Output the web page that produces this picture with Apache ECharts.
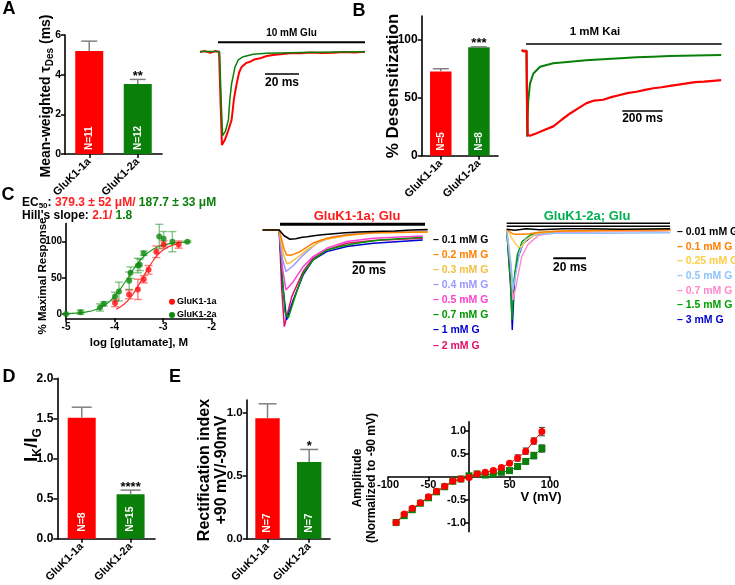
<!DOCTYPE html>
<html><head><meta charset="utf-8">
<script src="https://cdn.jsdelivr.net/npm/echarts@6/dist/echarts.min.js"></script>
<style>html,body{margin:0;padding:0;background:#fff}#c{width:735px;height:585px}</style>
</head><body><div id="c"></div>
<script>
const FONT = '"Liberation Sans", Arial, sans-serif';
const RED = '#ff0000', GREEN = '#0a800a', GREY = '#808080';

// ---------- DATA ----------
const groups = ['GluK1-1a', 'GluK1-2a'];
// Panel A bars
const tauDes = [5.19, 3.53];
const tauDesErr = [0.50, 0.23];
const tauN = ['N=11', 'N=12'];
const tauStars = ['', '**'];
// Panel B bars
const desens = [72.4, 93.1];
const desensErr = [2.3, 0.4];
const desensN = ['N=5', 'N=8'];
const desensStars = ['', '***'];
// Panel D bars
const ikig = [1.51, 0.557];
const ikigErr = [0.13, 0.05];
const ikigN = ['N=8', 'N=15'];
const ikigStars = ['', '****'];
// Panel E bars
const rectIdx = [0.955, 0.608];
const rectErr = [0.115, 0.10];
const rectN = ['N=7', 'N=7'];
const rectStars = ['', '*'];

// Panel A trace (time ms, normalized current)
const traceA_red = [[0,0],[3,0.01],[6,-0.01],[9,0.01],[11.2,0],[12.2,-0.6],[12.9,-1.0],[14.5,-0.95],[16.5,-0.85],[18.6,-0.73],[20,-0.5],[21.6,-0.34],[23,-0.22],[24.5,-0.16],[27,-0.12],[29.4,-0.105],[32,-0.08],[35.3,-0.068],[39.2,-0.043],[44,-0.03],[48.8,-0.022],[54,-0.01],[58.8,-0.014],[65,-0.005],[72,-0.012],[78.2,-0.008],[85,0],[91,-0.005],[97,0.003]];
const traceA_green = [[0,0.005],[11.5,0.005],[12.4,-0.5],[13.3,-0.9],[15,-0.85],[16.7,-0.73],[17.6,-0.5],[18.6,-0.34],[20.6,-0.16],[22.5,-0.086],[25.5,-0.05],[31.3,-0.025],[39.2,-0.014],[60,-0.005],[80,0],[97,0.003]];
// Panel B trace
const traceB_green = [[0,0],[24,0],[25.5,-0.5],[27,-1.0],[29,-0.8],[32.8,-0.573],[41.4,-0.38],[57.9,-0.265],[91,-0.186],[156,-0.147],[240,-0.128],[320,-0.112],[404,-0.1],[490,-0.088],[570,-0.077],[650,-0.07],[736,-0.063],[860,-0.056],[990,-0.05]];
const traceB_red = [[0,0.01],[10,-0.01],[24,0],[26,-0.5],[30,-0.98],[41,-0.99],[74,-0.96],[115,-0.92],[157,-0.88],[200,-0.8],[240,-0.73],[280,-0.67],[322,-0.61],[360,-0.58],[404,-0.57],[445,-0.54],[487,-0.515],[530,-0.49],[570,-0.477],[612,-0.455],[653,-0.437],[695,-0.425],[736,-0.41],[778,-0.395],[819,-0.38],[860,-0.365],[905,-0.36],[950,-0.35],[990,-0.343]];

// Panel C dose-response (log M, % max, sem)
const doseRed = [[-3.99,15,5],[-3.70,27,6],[-3.52,34,14],[-3.40,48,5],[-3.30,61,6],[-3.14,86,8],[-2.99,96,5],[-2.68,96,5]];
const doseGreen = [[-5.0,0,0],[-4.70,2.5,3],[-4.30,9,5],[-4.22,14,3],[-3.99,24,6],[-3.91,31,13],[-3.70,46,12],[-3.67,57,8],[-3.52,67,10],[-3.48,68,8],[-3.40,84,3],[-3.08,107,17],[-2.99,104,10],[-2.81,100,14],[-2.50,100,1]];
const fitRed = [[-3.97,6.5],[-3.9,8.9],[-3.8,13.7],[-3.7,20.5],[-3.6,29.5],[-3.5,40.4],[-3.42,50],[-3.3,64.1],[-3.2,74.3],[-3.1,82.4],[-3.0,88.4],[-2.9,92.5],[-2.8,95.2],[-2.68,97.3]];
const fitGreen = [[-5,0.5],[-4.8,1.2],[-4.6,2.6],[-4.4,5.8],[-4.2,12.3],[-4.0,24.4],[-3.8,42.5],[-3.6,62.9],[-3.4,79.5],[-3.2,89.9],[-3.0,95.3],[-2.8,97.9],[-2.5,99.4]];

// Panel C traces GluK1-1a (ms, normalized)
const cLeftLabels = ['0.1 mM G','0.2 mM G','0.3 mM G','0.4 mM G','0.5 mM G','0.7 mM G','1 mM G','2 mM G'];
const cLeftColors = ['#000000','#ff8000','#f0c040','#9999ff','#ff40d0','#009900','#0000cc','#e0106a'];
const cLeftTraces = [
  [[0,0],[10,0],[13,-0.06],[16.5,-0.096],[20,-0.09],[24,-0.075],[27,-0.07],[31,-0.06],[36,-0.05],[43,-0.04],[50,-0.03],[58,-0.02],[67,-0.015],[80,-0.01],[90,0],[100,0.005]],
  [[0,0],[10,0],[13,-0.2],[14.5,-0.26],[17.5,-0.26],[22.6,-0.225],[30.5,-0.135],[38.8,-0.086],[51,-0.052],[67,-0.028],[100,-0.02]],
  [[0,0],[10,0],[12.5,-0.25],[14.7,-0.35],[16.5,-0.34],[20.6,-0.29],[26.7,-0.207],[36.5,-0.103],[50,-0.06],[67,-0.03],[100,-0.02]],
  [[0,0],[10,0],[12,-0.3],[14.1,-0.43],[18.5,-0.37],[24.5,-0.26],[32.6,-0.138],[42.6,-0.069],[55,-0.04],[75,-0.02],[100,-0.01]],
  [[0,0],[10,0],[12,-0.4],[14.1,-0.62],[18.5,-0.535],[24.5,-0.38],[30.5,-0.276],[38.8,-0.19],[51,-0.12],[67,-0.085],[97,-0.062]],
  [[0,0],[10,0],[12,-0.5],[13.5,-0.85],[15.5,-0.91],[19.6,-0.69],[24.5,-0.448],[30.5,-0.31],[38.8,-0.207],[47,-0.172],[57,-0.138],[71,-0.103],[97,-0.075]],
  [[0,0],[10,0],[12,-0.55],[14.5,-0.93],[18.5,-0.724],[24.5,-0.465],[30.5,-0.31],[38.8,-0.224],[51,-0.172],[67,-0.138],[97,-0.103]],
  [[0,0],[10,0],[11.5,-0.6],[13.1,-1.0],[17.6,-0.69],[24.5,-0.43],[30.5,-0.293],[38.8,-0.207],[51,-0.138],[67,-0.11],[97,-0.086]]
];
// Panel C traces GluK1-2a
const cRightLabels = ['0.01 mM G','0.1 mM G','0.25 mM G','0.5 mM G','0.7 mM G','1.5 mM G','3 mM G'];
const cRightColors = ['#000000','#ff7f00','#ffcc44','#8fc3ff','#ff88cc','#00a000','#0000cc'];
const cRightTraces = [
  [[0,0],[5,-0.01],[12,0.005],[20,-0.005],[35,0.005],[50,0.005],[70,0],[100,0.005]],
  [[0,0],[1.2,0],[3,-0.04],[5,-0.05],[10,-0.05],[14,-0.045],[20,-0.03],[30,-0.02],[50,-0.012],[100,-0.005]],
  [[0,0],[1.2,0],[3.5,-0.1],[7.1,-0.18],[9,-0.17],[12.2,-0.107],[18.3,-0.04],[30,-0.02],[60,-0.015],[100,-0.01]],
  [[0,0],[1.2,0],[2.7,-0.35],[3.9,-0.6],[5.5,-0.45],[8,-0.22],[11.5,-0.1],[18,-0.05],[30,-0.04],[60,-0.04],[100,-0.035]],
  [[0,0],[1.2,0],[2.7,-0.4],[3.9,-0.7],[6.1,-0.53],[9.2,-0.27],[13,-0.15],[19.6,-0.06],[30,-0.035],[60,-0.025],[100,-0.015]],
  [[0,0],[1.2,0],[2.5,-0.55],[3.2,-0.9],[4.5,-0.5],[6.5,-0.25],[9.5,-0.12],[15,-0.05],[25,-0.03],[60,-0.02],[100,-0.01]],
  [[0,0],[1.2,0],[2.5,-0.6],[3.4,-1.0],[5,-0.44],[7.1,-0.27],[10.2,-0.14],[16.3,-0.057],[24.5,-0.034],[40,-0.02],[70,-0.015],[100,-0.01]]
];

// Panel E I-V (mV, normalized amplitude, sem)
const ivVolt = [-90,-80,-70,-60,-50,-40,-30,-20,-10,0,10,20,30,40,50,60,70,80,90];
const ivRed = [-1.0,-0.815,-0.69,-0.57,-0.44,-0.32,-0.21,-0.096,-0.05,-0.015,0.06,0.096,0.133,0.2,0.296,0.407,0.556,0.778,0.985];
const ivRedErr = [0,0.02,0.02,0.02,0.02,0.02,0.02,0.02,0.02,0.02,0.02,0.02,0.02,0.03,0.03,0.07,0.07,0.07,0.09];
const ivGreen = [-1.0,-0.85,-0.72,-0.58,-0.46,-0.33,-0.22,-0.1,-0.05,0.02,0.06,0.037,0.06,0.096,0.133,0.222,0.333,0.46,0.615];
const ivGreenErr = [0,0.02,0.02,0.02,0.02,0.02,0.02,0.02,0.02,0.02,0.02,0.02,0.02,0.02,0.03,0.03,0.05,0.07,0.08];

// ---------- HELPERS ----------
function grid(x0, x1, y0, y1) { return {left:x0, top:y0, width:x1-x0, height:y1-y0, containLabel:false}; }
function axStyle(fs) {
  return {
    axisLine:{show:true, onZero:false, lineStyle:{color:'#000', width:1.6}},
    axisTick:{show:true, length:4, lineStyle:{color:'#000', width:1.5}},
    axisLabel:{color:'#000', fontWeight:'bold', fontSize:fs, fontFamily:FONT, margin:4},
    splitLine:{show:false}
  };
}
function catAxis(gi, fs) {
  const a = axStyle(fs);
  a.type = 'category'; a.gridIndex = gi; a.data = groups;
  a.axisTick.alignWithLabel = true;
  a.axisLabel.rotate = 45; a.axisLabel.interval = 0; a.axisLabel.margin = 6;
  return a;
}
function valAxis(gi, fs, min, max, ticks, fmt) {
  const a = axStyle(fs);
  a.type = 'value'; a.gridIndex = gi; a.min = min; a.max = max;
  a.axisLabel.customValues = ticks; a.axisTick.customValues = ticks;
  if (fmt) a.axisLabel.formatter = fmt;
  return a;
}
function hidden(gi, min, max) { return {type:'value', gridIndex:gi, min, max, show:false, splitLine:{show:false}}; }

function errRender(o) {
  return function (params, api) {
    const x = api.value(0), v = api.value(1), e = api.value(2);
    const top = api.coord([x, v + e]);
    const bot = api.coord([x, o.both ? v - e : v]);
    const st = {stroke:o.color, lineWidth:o.width};
    const ch = [
      {type:'line', shape:{x1:top[0], y1:top[1], x2:bot[0], y2:bot[1]}, style:st},
      {type:'line', shape:{x1:top[0]-o.cap, y1:top[1], x2:top[0]+o.cap, y2:top[1]}, style:st}
    ];
    if (o.both) ch.push({type:'line', shape:{x1:bot[0]-o.cap, y1:bot[1], x2:bot[0]+o.cap, y2:bot[1]}, style:st});
    if (o.stars && o.stars[params.dataIndex]) {
      ch.push({type:'text', x:top[0], y:top[1]-3, style:{text:o.stars[params.dataIndex], fill:'#000',
        font:'bold 13px ' + FONT, align:'center', verticalAlign:'middle'}});
    }
    return {type:'group', children:ch};
  };
}
function barSeries(gi, vals, ns, w, dist, fs) {
  return {type:'bar', xAxisIndex:gi, yAxisIndex:gi, barWidth:w, silent:true,
    data: vals.map((v, i) => ({value:v, itemStyle:{color: i === 0 ? RED : GREEN}})),
    label:{show:true, position:'insideBottom', rotate:90, align:'left', verticalAlign:'middle', distance:dist,
      color:'#fff', fontWeight:'bold', fontSize:fs, fontFamily:FONT, formatter:(p) => ns[p.dataIndex]}};
}
function errSeries(gi, vals, errs, o) {
  return {type:'custom', xAxisIndex:gi, yAxisIndex:gi, silent:true, z:5,
    data: vals.map((v, i) => [i, v, errs[i]]), encode:{x:0, y:1}, renderItem: errRender(o)};
}
function trace(gi, data, color, w) {
  return {type:'line', xAxisIndex:gi, yAxisIndex:gi, data, showSymbol:false, symbol:'none', clip:false, silent:true,
    lineStyle:{color, width:w||1.5}};
}
function T(x, y, text, fs, o) {
  o = o || {};
  return {type:'text', x, y, rotation:o.rot||0, z:10, silent:true,
    style:{text, fill:o.color||'#000', font:'bold ' + fs + 'px ' + FONT, align:o.align||'center', verticalAlign:'middle'}};
}
function R(x, y, text, rich, o) {
  o = o || {};
  return {type:'text', x, y, rotation:o.rot||0, z:10, silent:true,
    style:{text, rich, align:o.align||'center', verticalAlign:'middle'}};
}
function L(x1, y1, x2, y2, w, color) {
  return {type:'line', shape:{x1, y1, x2, y2}, z:10, silent:true, style:{stroke:color||'#000', lineWidth:w}};
}
function rs(fs, color, extra) { return Object.assign({fontSize:fs, fontWeight:'bold', fontFamily:FONT, fill:color||'#000'}, extra||{}); }

// ---------- LAYOUT ----------
const grids = [
  grid(65, 162, 35, 154),          // 0 A bars
  grid(200, 370, 33.4, 154.3),     // 1 A trace
  grid(421.7, 498, 16, 155.7),     // 2 B bars
  grid(521.7, 723.2, 42.1, 145.3), // 3 B trace
  grid(66, 211.7, 223.6, 318.3),   // 4 C dose
  grid(262.7, 427.7, 220.3, 336.3),// 5 C left traces
  grid(506.7, 670.2, 219.2, 340),  // 6 C right traces
  grid(57.3, 155, 378.3, 540),     // 7 D bars
  grid(246.7, 330, 400, 539.3),    // 8 E bars
  grid(388, 550, 421.7, 531.7)     // 9 E IV
];
const xAxes = [
  catAxis(0, 11), hidden(1, 0, 100), catAxis(2, 11), hidden(3, 0, 1000),
  valAxis(4, 10, -5, -2, [-5,-4,-3,-2]),
  hidden(5, 0, 100), hidden(6, 0, 100), catAxis(7, 11), catAxis(8, 11),
  valAxis(9, 11, -100, 100, [-100,-50,50,100])
];
// I-V axes cross at the origin (shifted from the grid edges)
xAxes[9].axisTick.customValues = [-100,-50,0,50,100];
xAxes[9].offset = -55;
xAxes[9].axisLabel.margin = 3;
const yAxes = [
  valAxis(0, 10.5, 0, 6, [0,2,4,6]), hidden(1, -1.1, 0.2),
  valAxis(2, 12, 0, 120, [0,50,100]), hidden(3, -1.1, 0.1),
  valAxis(4, 10, -6, 125, [0,50,100]),
  hidden(5, -1.1, 0.1), hidden(6, -1.1, 0.1),
  valAxis(7, 12, 0, 2, [0,0.5,1,1.5,2], v => v.toFixed(1)),
  valAxis(8, 11.5, 0, 1.1, [0,0.5,1], v => v.toFixed(1)),
  valAxis(9, 11, -1.2, 1.2, [-1,-0.5,0.5,1], v => v.toFixed(1))
];
yAxes[9].axisTick.customValues = [-1,-0.5,0,0.5,1];
yAxes[9].offset = -81;
yAxes[9].axisLabel.margin = 3;

const series = [];
// A
series.push(barSeries(0, tauDes, tauN, 28, 4, 10));
series.push(errSeries(0, tauDes, tauDesErr, {cap:8, color:GREY, width:1.5, stars:tauStars}));
series.push(trace(1, traceA_red, RED, 2));
series.push(trace(1, traceA_green, GREEN, 1.5));
// B
series.push(barSeries(2, desens, desensN, 21.5, 5, 10));
series.push(errSeries(2, desens, desensErr, {cap:8, color:GREY, width:1.5, stars:desensStars}));
series.push(trace(3, traceB_green, GREEN, 2));
series.push(trace(3, traceB_red, RED, 2.2));
// C dose
series.push({type:'line', xAxisIndex:4, yAxisIndex:4, data:fitGreen, smooth:true, showSymbol:false, symbol:'none', silent:true, lineStyle:{color:'#1a9a1a', width:1.2}});
series.push({type:'line', xAxisIndex:4, yAxisIndex:4, data:fitRed, smooth:true, showSymbol:false, symbol:'none', silent:true, lineStyle:{color:'#ff3030', width:1.2}});
series.push({type:'custom', xAxisIndex:4, yAxisIndex:4, silent:true, data:doseGreen, encode:{x:0,y:1}, renderItem:errRender({cap:4, color:'rgba(40,150,40,0.55)', width:1.4, both:true})});
series.push({type:'custom', xAxisIndex:4, yAxisIndex:4, silent:true, data:doseRed, encode:{x:0,y:1}, renderItem:errRender({cap:4, color:'rgba(255,40,40,0.6)', width:1.4, both:true})});
series.push({type:'scatter', xAxisIndex:4, yAxisIndex:4, silent:true, data:doseGreen.map(d => [d[0], d[1]]), symbolSize:6, itemStyle:{color:'#108a10'}, z:6});
series.push({type:'scatter', xAxisIndex:4, yAxisIndex:4, silent:true, data:doseRed.map(d => [d[0], d[1]]), symbolSize:6, itemStyle:{color:'#ff1010'}, z:6});
// C traces
[7,6,5,4,3,2,1,0].forEach(i => series.push(trace(5, cLeftTraces[i], cLeftColors[i], 1.5)));
[6,5,4,3,2,1,0].forEach(i => series.push(trace(6, cRightTraces[i], cRightColors[i], 1.4)));
// D
series.push(barSeries(7, ikig, ikigN, 28, 7, 10.5));
series.push(errSeries(7, ikig, ikigErr, {cap:10, color:GREY, width:1.5, stars:ikigStars}));
// E bars
series.push(barSeries(8, rectIdx, rectN, 24.4, 6, 10.5));
series.push(errSeries(8, rectIdx, rectErr, {cap:9, color:GREY, width:1.5, stars:rectStars}));
// E IV
series.push({type:'custom', xAxisIndex:9, yAxisIndex:9, silent:true, data:ivVolt.map((v,i)=>[v, ivGreen[i], ivGreenErr[i]]), encode:{x:0,y:1}, renderItem:errRender({cap:3, color:'#555', width:1.2, both:true}), z:3});
series.push({type:'custom', xAxisIndex:9, yAxisIndex:9, silent:true, data:ivVolt.map((v,i)=>[v, ivRed[i], ivRedErr[i]]), encode:{x:0,y:1}, renderItem:errRender({cap:3, color:'#555', width:1.2, both:true}), z:3});
series.push({type:'line', xAxisIndex:9, yAxisIndex:9, silent:true, data:ivVolt.map((v,i)=>[v, ivGreen[i]]), symbol:'rect', symbolSize:7, showSymbol:true, lineStyle:{color:'#0a800a', width:1}, itemStyle:{color:'#0a800a'}, z:4});
series.push({type:'line', xAxisIndex:9, yAxisIndex:9, silent:true, data:ivVolt.map((v,i)=>[v, ivRed[i]]), symbol:'circle', symbolSize:7, showSymbol:true, lineStyle:{color:'#ff0000', width:1}, itemStyle:{color:'#ff0000'}, z:5});

// ---------- ANNOTATIONS ----------
const P = Math.PI / 2;
const g = [];
g.push(T(9, 9, 'A', 18), T(359, 11, 'B', 18), T(8, 195, 'C', 18), T(9, 377, 'D', 18), T(175, 377, 'E', 18));
g.push(R(46, 96, '{m|Mean-weighted τ}{s|Des}{m| (ms)}', {m:rs(14,'#000',{lineHeight:18}), s:rs(10,'#000',{lineHeight:11, verticalAlign:'bottom'})}, {rot:P}));
g.push(T(393, 86, '% Desensitization', 17, {rot:P}));
g.push(T(43, 276, '% Maximal Response', 11.5, {rot:P}));
g.push(T(139, 343, 'log [glutamate], M', 11.5));
g.push(R(32, 445, '{m|I}{s|K}{m|/I}{s|G}', {m:rs(19,'#000',{lineHeight:24}), s:rs(12,'#000',{lineHeight:13, verticalAlign:'bottom'})}, {rot:P}));
g.push({type:'text', x:213, y:470, rotation:P, z:10, silent:true, style:{text:'Rectification index\n+90 mV/-90mV', fill:'#000', font:'bold 16px ' + FONT, align:'center', verticalAlign:'middle', lineHeight:17}});
g.push({type:'text', x:365, y:478, rotation:P, z:10, silent:true, style:{text:'Amplitude\n(Normalized to -90 mV)', fill:'#000', font:'bold 12px ' + FONT, align:'center', verticalAlign:'middle', lineHeight:14}});
g.push(T(541, 497, 'V (mV)', 13));
g.push(R(22, 203, '{k|EC}{ks|50}{k|: }{r|379.3 ± 52 μM/}{g| 187.7 ± 33 μM}', {k:rs(12,'#000',{lineHeight:14}), ks:rs(8,'#000',{lineHeight:9, verticalAlign:'bottom'}), r:rs(12,'#ff2020',{lineHeight:14}), g:rs(12,'#0a800a',{lineHeight:14})}, {align:'left'}));
g.push(R(22, 215.5, "{k|Hill's slope: }{r|2.1/}{g| 1.8}", {k:rs(12,'#000'), r:rs(12,'#ff2020'), g:rs(12,'#0a800a')}, {align:'left'}));
g.push({type:'circle', shape:{cx:172, cy:301.7, r:3}, style:{fill:'#ff1010'}, z:10, silent:true});
g.push({type:'circle', shape:{cx:172, cy:315, r:3}, style:{fill:'#108a10'}, z:10, silent:true});
g.push(T(177, 301.7, 'GluK1-1a', 9, {align:'left'}), T(177, 315, 'GluK1-2a', 9, {align:'left'}));
g.push(L(218, 42.3, 365, 42.3, 2), T(291.5, 33, '10 mM Glu', 10));
g.push(L(265, 74, 299, 74, 1.6), T(282, 83, '20 ms', 12));
g.push(L(526, 44, 721.7, 44, 1.6), T(595, 31.7, '1 mM Kai', 11.5));
g.push(L(622.3, 111, 662.7, 111, 1.6), T(642.5, 118.5, '200 ms', 12));
g.push(L(280, 224.3, 425, 224.3, 3), T(357, 216.5, 'GluK1-1a; Glu', 13, {color:'#ff1a1a'}));
g.push(L(352.7, 262.3, 385.7, 262.3, 2), T(369, 271, '20 ms', 12));
cLeftLabels.forEach((s, i) => g.push(T(433, 240 + i * 15.1, '– ' + s, 10.5, {align:'left', color:cLeftColors[i]})));
g.push(L(506.7, 223.3, 670, 223.3, 1.5), L(506.7, 226.3, 670, 226.3, 1.5), T(587, 216, 'GluK1-2a; Glu', 13, {color:'#00b050'}));
g.push(L(553.3, 258.3, 586, 258.3, 2), T(570, 267.3, '20 ms', 12));
cRightLabels.forEach((s, i) => g.push(T(677, 232.3 + i * 14.6, '– ' + s, 10.5, {align:'left', color:cRightColors[i]})));

const chart = echarts.init(document.getElementById('c'), null, {renderer:'canvas'});
chart.setOption({animation:false, backgroundColor:'#fff', grid:grids, xAxis:xAxes, yAxis:yAxes, series, graphic:{elements:g}});
</script></body></html>
